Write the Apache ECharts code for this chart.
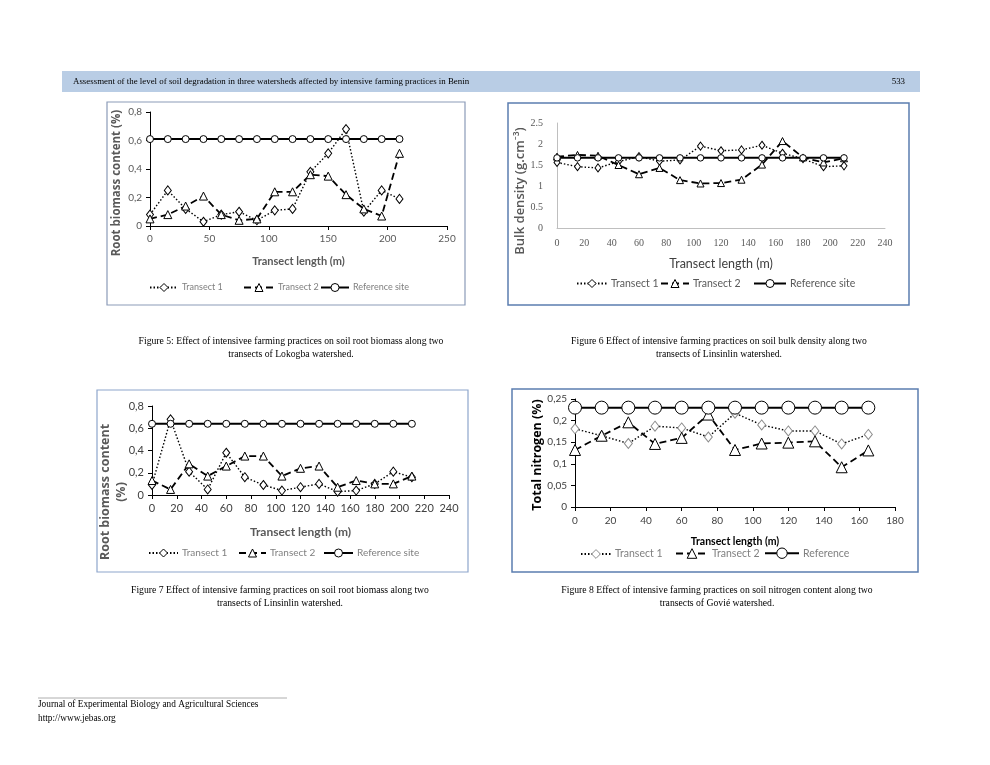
<!DOCTYPE html>
<html><head><meta charset="utf-8">
<script src="https://cdn.jsdelivr.net/npm/echarts@6/dist/echarts.min.js"></script>
<style>html,body{margin:0;padding:0;background:#fff}#c{width:990px;height:765px}</style>
</head><body><div id="c"></div>
<script>
// ---- Figure 5 (Lokogba, root biomass) ----
const fig5X   = [0,15,30,45,60,75,90,105,120,135,150,165,180,195,210];
const fig5T1  = [0.08,0.25,0.12,0.03,0.08,0.10,0.04,0.11,0.12,0.38,0.51,0.68,0.10,0.25,0.19];
const fig5T2  = [0.05,0.08,0.14,0.21,0.08,0.04,0.05,0.24,0.24,0.36,0.35,0.22,0.12,0.07,0.51];
const fig5Ref = [0.61,0.61,0.61,0.61,0.61,0.61,0.61,0.61,0.61,0.61,0.61,0.61,0.61,0.61,0.61];
// ---- Figure 6 (Linsinlin, bulk density) ----
const fig6X   = [0,15,30,45,60,75,90,105,120,135,150,165,180,195,210];
const fig6T1  = [1.56,1.46,1.43,1.58,1.70,1.59,1.62,1.95,1.84,1.86,1.97,1.78,1.65,1.46,1.48];
const fig6T2  = [1.70,1.74,1.72,1.50,1.28,1.43,1.14,1.06,1.07,1.15,1.51,2.07,1.68,1.56,1.66];
const fig6Ref = [1.67,1.67,1.67,1.67,1.67,1.67,1.67,1.67,1.67,1.67,1.67,1.67,1.67,1.67,1.67];
// ---- Figure 7 (Linsinlin, root biomass) ----
const fig7X   = [0,15,30,45,60,75,90,105,120,135,150,165,180,195,210];
const fig7T1  = [0.09,0.68,0.21,0.05,0.38,0.16,0.09,0.04,0.07,0.10,0.03,0.04,0.10,0.21,0.16];
const fig7T2  = [0.13,0.05,0.28,0.17,0.26,0.35,0.35,0.17,0.24,0.26,0.07,0.13,0.10,0.10,0.17];
const fig7Ref = [0.64,0.64,0.64,0.64,0.64,0.64,0.64,0.64,0.64,0.64,0.64,0.64,0.64,0.64,0.64];
// ---- Figure 8 (Govié, total nitrogen) ----
const fig8X   = [0,15,30,45,60,75,90,105,120,135,150,165];
const fig8T1  = [0.181,0.165,0.147,0.187,0.183,0.162,0.217,0.190,0.176,0.176,0.146,0.168];
const fig8T2  = [0.132,0.165,0.196,0.146,0.160,0.214,0.132,0.147,0.149,0.152,0.092,0.131];
const fig8Ref = [0.23,0.23,0.23,0.23,0.23,0.23,0.23,0.23,0.23,0.23,0.23,0.23];

const headerText = 'Assessment of the level of soil degradation in three watersheds affected by intensive farming practices in Benin';
const pageNo = '533';
const captions = [
  ['Figure 5: Effect of intensivee farming practices on soil root biomass along two','transects of Lokogba watershed.'],
  ['Figure 6 Effect of intensive farming practices on soil bulk density along two','transects of Linsinlin watershed.'],
  ['Figure 7 Effect of intensive farming practices on soil root biomass along two','transects of Linsinlin watershed.'],
  ['Figure 8 Effect of intensive farming practices on soil nitrogen content along two','transects of Govié watershed.']
];
const footerLines = ['Journal of Experimental Biology and Agricultural Sciences', 'http://www.jebas.org'];
const axisTitles = {
  x: 'Transect length (m)',
  y5: 'Root biomass content (%)',
  y6: 'Bulk density (g.cm⁻³)',
  y7: 'Root biomass content\n(%)',
  y8: 'Total nitrogen (%)'
};
const legendNames = {t1:'Transect 1', t2:'Transect 2', ref:'Reference site', ref8:'Reference'};

const SANS = 'Lato, "Open Sans", sans-serif';
const OPEN = '"Open Sans", Lato, sans-serif';
const SERIF = '"Liberation Serif", "Times New Roman", serif';
const comma = v => String(+(+v).toFixed(2)).replace('.', ',');

function pairs(xs, ys){ return xs.map((x,i)=>[x, ys[i]]); }

function series(id, kind, xs, ys, gi, o){
  o = o || {};
  const base = {
    id: id, name: id, type:'line', xAxisIndex: gi, yAxisIndex: gi,
    data: pairs(xs, ys), silent:true, animation:false,
    itemStyle:{color:'#fff', borderColor: o.sym || '#000', borderWidth:1},
  };
  if (kind==='t1'){
    base.symbol='diamond'; base.symbolSize=o.size||[7,9];
    base.lineStyle={color:'#000', width:1.4, type:[1.5,2]};
  } else if (kind==='t2'){
    base.symbol='triangle'; base.symbolSize=o.size||8;
    base.lineStyle={color:'#000', width:1.8, type:[7,4]};
  } else {
    base.symbol='circle'; base.symbolSize=o.size||7;
    base.lineStyle={color:'#000', width:2, type:'solid'};
  }
  return base;
}

function legendItem(id, label, left, cy, fs, color, w, h, symColor){
  h = h || 10;
  return {
    data:[id], left:left, top:cy-h/2, itemWidth:w||30, itemHeight:h, itemGap:0,
    selectedMode:false, formatter:()=>label, padding:0,
    itemStyle:{color:'#fff', borderColor:symColor||'#000', borderWidth:1},
    textStyle:{fontSize:fs, color:color, fontFamily:SANS, padding:[0,0,0,-1]}
  };
}

const grids = [
  {left:150, top:112, width:297, height:114},
  {left:557, top:123, width:328, height:105},
  {left:152, top:406, width:297, height:89},
  {left:575, top:399, width:320, height:108}
];

const blackAxis = {lineStyle:{color:'#000', width:1}};
const xAxes = [
  {gridIndex:0, type:'value', min:0, max:250, interval:50,
   axisLine:blackAxis, axisTick:{show:true, length:4, lineStyle:{color:'#000'}}, splitLine:{show:false},
   axisLabel:{fontSize:10, color:'#595959', fontFamily:SANS, margin:8},
   name:axisTitles.x, nameLocation:'middle', nameGap:30,
   nameTextStyle:{fontSize:11, fontWeight:'bold', color:'#595959', fontFamily:SANS}},
  {gridIndex:1, type:'value', min:0, max:240, interval:20,
   axisLine:{lineStyle:{color:'#bfbfbf'}}, axisTick:{show:false}, splitLine:{show:false},
   axisLabel:{fontSize:10, color:'#595959', fontFamily:SERIF, margin:10},
   name:axisTitles.x, nameLocation:'middle', nameGap:29,
   nameTextStyle:{fontSize:12.5, color:'#404040', fontFamily:SANS}},
  {gridIndex:2, type:'value', min:0, max:240, interval:20,
   axisLine:blackAxis, axisTick:{show:true, length:4, lineStyle:{color:'#000'}}, splitLine:{show:false},
   axisLabel:{fontSize:11, color:'#404040', fontFamily:SANS, margin:8},
   name:axisTitles.x, nameLocation:'middle', nameGap:31,
   nameTextStyle:{fontSize:12, fontWeight:'bold', color:'#595959', fontFamily:SANS}},
  {gridIndex:3, type:'value', min:0, max:180, interval:20,
   axisLine:blackAxis, axisTick:{show:true, length:4, lineStyle:{color:'#000'}}, splitLine:{show:false},
   axisLabel:{fontSize:10, color:'#404040', fontFamily:SANS, margin:9},
   name:axisTitles.x, nameLocation:'middle', nameGap:29,
   nameTextStyle:{fontSize:10.5, fontWeight:'bold', color:'#000', fontFamily:SANS}}
];
const yAxes = [
  {gridIndex:0, type:'value', min:0, max:0.8, interval:0.2,
   axisLine:{show:true, lineStyle:{color:'#000'}}, axisTick:{show:true, length:4, lineStyle:{color:'#000'}}, splitLine:{show:false},
   axisLabel:{fontSize:10, color:'#595959', fontFamily:SANS, margin:8, formatter:comma}},
  {gridIndex:1, type:'value', min:0, max:2.5, interval:0.5,
   axisLine:{show:true, lineStyle:{color:'#bfbfbf'}}, axisTick:{show:false}, splitLine:{show:false},
   axisLabel:{fontSize:10, color:'#595959', fontFamily:SERIF, margin:14}},
  {gridIndex:2, type:'value', min:0, max:0.8, interval:0.2,
   axisLine:{show:true, lineStyle:{color:'#000'}}, axisTick:{show:true, length:4, lineStyle:{color:'#000'}}, splitLine:{show:false},
   axisLabel:{fontSize:11, color:'#404040', fontFamily:SANS, margin:8, formatter:comma}},
  {gridIndex:3, type:'value', min:0, max:0.25, interval:0.05,
   axisLine:{show:true, lineStyle:{color:'#000'}}, axisTick:{show:true, length:4, lineStyle:{color:'#000'}}, splitLine:{show:false},
   axisLabel:{fontSize:10, color:'#404040', fontFamily:SANS, margin:8, formatter:comma}}
];

const allSeries = [
  series('f5t1','t1',fig5X,fig5T1,0), series('f5t2','t2',fig5X,fig5T2,0), series('f5ref','ref',fig5X,fig5Ref,0),
  series('f6t1','t1',fig6X,fig6T1,1,{size:[6,8]}), series('f6t2','t2',fig6X,fig6T2,1,{size:7}), series('f6ref','ref',fig6X,fig6Ref,1,{size:6.5}),
  series('f7t1','t1',fig7X,fig7T1,2), series('f7t2','t2',fig7X,fig7T2,2), series('f7ref','ref',fig7X,fig7Ref,2),
  series('f8t1','t1',fig8X,fig8T1,3,{sym:'#8c8c8c', size:[8,10]}), series('f8t2','t2',fig8X,fig8T2,3,{size:11}),
  series('f8ref','ref',fig8X,fig8Ref,3,{size:13})
];

const legends = [
  legendItem('f5t1', legendNames.t1, 149, 288, 9, '#7f7f7f', 28, 10),
  legendItem('f5t2', legendNames.t2, 243, 288, 9, '#7f7f7f', 30, 10),
  legendItem('f5ref', legendNames.ref, 320, 288, 9, '#7f7f7f', 28, 10),
  legendItem('f6t1', legendNames.t1, 576, 283, 10.5, '#595959', 30, 10),
  legendItem('f6t2', legendNames.t2, 660, 283, 10.5, '#595959', 28, 10),
  legendItem('f6ref', legendNames.ref, 753, 283, 10.5, '#595959', 32, 10),
  legendItem('f7t1', legendNames.t1, 148, 553, 10, '#7f7f7f', 29, 10),
  legendItem('f7t2', legendNames.t2, 238, 553, 10, '#7f7f7f', 27, 10),
  legendItem('f7ref', legendNames.ref, 323, 553, 10, '#7f7f7f', 29, 10),
  legendItem('f8t1', legendNames.t1, 580, 554, 10.5, '#7f7f7f', 30, 11, '#8c8c8c'),
  legendItem('f8t2', legendNames.t2, 675, 554, 10.5, '#7f7f7f', 32, 12),
  legendItem('f8ref', legendNames.ref8, 764, 554, 10.5, '#7f7f7f', 34, 13)
];

const capPos = [[291,341],[719,341],[280,590],[717,590]];
const rot = Math.PI/2;
const graphics = [
  {type:'rect', shape:{x:62,y:71,width:858,height:21}, style:{fill:'#b9cde5'}, silent:true},
  {type:'text', x:73, y:81.5, style:{text:headerText, font:'8.9px '+SERIF, fill:'#000', textVerticalAlign:'middle'}},
  {type:'text', x:905, y:81.5, style:{text:pageNo, font:'8.9px '+SERIF, fill:'#000', textAlign:'right', textVerticalAlign:'middle'}},
  {type:'rect', shape:{x:107,y:102,width:358,height:203}, style:{fill:'none', stroke:'#8b9bb8', lineWidth:1.2}, silent:true, z:-1},
  {type:'rect', shape:{x:508,y:103,width:401,height:202}, style:{fill:'none', stroke:'#5b7db0', lineWidth:1.5}, silent:true, z:-1},
  {type:'rect', shape:{x:97,y:390,width:371,height:182}, style:{fill:'none', stroke:'#8ea6cc', lineWidth:1.2}, silent:true, z:-1},
  {type:'rect', shape:{x:512,y:389,width:406,height:183}, style:{fill:'none', stroke:'#5b7db0', lineWidth:1.5}, silent:true, z:-1},
  // rotated y-axis titles
  {type:'text', x:117, y:183, rotation:rot, style:{text:axisTitles.y5, font:'bold 11.5px '+OPEN, fill:'#595959', textAlign:'center', textVerticalAlign:'middle'}},
  {type:'text', x:520, y:191, rotation:rot, style:{text:axisTitles.y6, font:'600 13px '+OPEN, fill:'#595959', textAlign:'center', textVerticalAlign:'middle'}},
  {type:'text', x:113, y:492, rotation:rot, style:{text:axisTitles.y7, font:'bold 12.5px '+OPEN, fill:'#595959', textAlign:'center', textVerticalAlign:'middle', lineHeight:16}},
  {type:'text', x:537, y:455, rotation:rot, style:{text:axisTitles.y8, font:'bold 12.5px '+OPEN, fill:'#000', textAlign:'center', textVerticalAlign:'middle'}},
  {type:'line', shape:{x1:38,y1:698,x2:287,y2:698}, style:{stroke:'#999', lineWidth:0.8}, silent:true},
  {type:'text', x:38, y:705, style:{text:footerLines[0], font:'9.3px '+SERIF, fill:'#000', textVerticalAlign:'middle'}},
  {type:'text', x:38, y:719, style:{text:footerLines[1], font:'9.3px '+SERIF, fill:'#000', textVerticalAlign:'middle'}}
];
captions.forEach((c,i)=>{
  graphics.push({type:'text', x:capPos[i][0], y:capPos[i][1], style:{text:c[0], font:'9.7px '+SERIF, fill:'#000', textAlign:'center', textVerticalAlign:'middle'}});
  graphics.push({type:'text', x:capPos[i][0], y:capPos[i][1]+13, style:{text:c[1], font:'9.7px '+SERIF, fill:'#000', textAlign:'center', textVerticalAlign:'middle'}});
});

const chart = echarts.init(document.getElementById('c'), null, {renderer:'canvas'});
chart.setOption({
  backgroundColor:'#fff', animation:false,
  grid: grids, xAxis: xAxes, yAxis: yAxes, series: allSeries, legend: legends, graphic: graphics
});
</script></body></html>
